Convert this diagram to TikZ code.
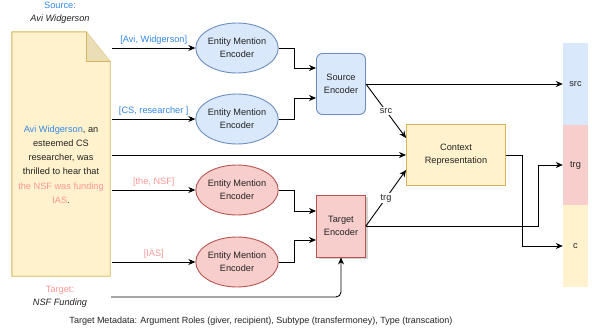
\documentclass[tikz,border=0pt]{standalone}
\usepackage{fontspec}
\setmainfont{Liberation Sans}
\usepackage{tikz}
\usetikzlibrary{arrows.meta,calc,positioning,shapes.geometric,shadows}
\definecolor{SrcFill}{RGB}{218,232,252}
\definecolor{SrcLine}{RGB}{108,142,191}
\definecolor{TrgFill}{RGB}{248,206,204}
\definecolor{TrgLine}{RGB}{184,84,80}
\definecolor{CtxFill}{RGB}{255,242,204}
\definecolor{CtxLine}{RGB}{214,182,86}
\definecolor{FoldFill}{RGB}{235,222,182}
\definecolor{SrcText}{RGB}{51,136,230}
\definecolor{TrgText}{RGB}{255,150,150}
\definecolor{Ink}{RGB}{35,35,35}

\begin{document}
\begin{tikzpicture}[x=1pt,y=-1pt,font=\fontsize{9.2}{13}\selectfont,text=Ink,
  mention/.style={ellipse,draw,line width=.9pt,minimum width=78,minimum height=50,inner sep=0,align=center},
  encbox/.style={draw,line width=.9pt,minimum width=49,minimum height=61,inner sep=0,align=center},
  slot/.style={minimum width=25,inner sep=0},
  arr/.style={line width=.9pt,-{Stealth[length=7pt,width=6pt]}},
  tag/.style={fill=white,inner sep=1pt}]
  \useasboundingbox (0,0) rectangle (592,335);
  % the story
  \node[minimum width=98,minimum height=244,inner sep=0] (doc) at (61,154) {};
  \draw[CtxLine,fill=CtxFill,line width=.9pt] (doc.north west) -- ($(doc.north east)+(-24,0)$)
    -- ($(doc.north east)+(0,30)$) -- (doc.south east) -- (doc.south west) -- cycle;
  \draw[CtxLine,fill=FoldFill,line width=.9pt] ($(doc.north east)+(-24,0)$)
    -- ($(doc.north east)+(-24,30)$) -- ($(doc.north east)+(0,30)$);
  \node[align=center,font=\fontsize{9.2}{14.3}\selectfont] (story) at (61,164.5)
    {{\color{SrcText}Avi Widgerson}, an\\esteemed CS\\researcher, was\\thrilled to hear that\\
     {\color{TrgText}the NSF was funding}\\{\color{TrgText}IAS}.};
  \node[align=center] (srcLbl) at (60,13) {{\color{SrcText}Source:}\\\textit{Avi Widgerson}};
  \node[align=center] (trgLbl) at (60,297) {{\color{TrgText}Target:}\\\textit{NSF Funding}};

  % encoders
  \node[mention,fill=SrcFill,draw=SrcLine] (emA) at (237,48) {Entity Mention\\Encoder};
  \node[mention,fill=SrcFill,draw=SrcLine] (emB) at (237,119) {Entity Mention\\Encoder};
  \node[mention,fill=TrgFill,draw=TrgLine] (emC) at (237,190) {Entity Mention\\Encoder};
  \node[mention,fill=TrgFill,draw=TrgLine] (emD) at (237,262) {Entity Mention\\Encoder};
  \node[encbox,fill=SrcFill,draw=SrcLine,rounded corners=6] (srcEnc) at (341,84) {Source\\Encoder};
  \node[encbox,fill=TrgFill,draw=TrgLine,minimum height=62,
    drop shadow={shadow xshift=2pt,shadow yshift=-2pt,opacity=.35}] (trgEnc) at (341,226) {Target\\Encoder};
  \node[encbox,fill=CtxFill,draw=CtxLine,minimum width=99] (ctx) at (456,155) {Context\\Representation};

  % output slots
  \node[slot,fill=SrcFill,minimum height=82] (colSrc) at (575.5,84) {src};
  \node[slot,fill=TrgFill,minimum height=80] (colTrg) at (575.5,165) {trg};
  \node[slot,fill=CtxFill,minimum height=82] (colC) at (575.5,246) {c};

  % mentions
  \draw[arr] ([xshift=2]doc.east |- emA) -- node[above,text=SrcText]{[Avi, Widgerson]} (emA);
  \draw[arr] ([xshift=2]doc.east |- emB) -- node[above,text=SrcText]{[CS, researcher ]} (emB);
  \draw[arr] ([xshift=2]doc.east |- emC) -- node[above,text=TrgText]{[the, NSF]} (emC);
  \draw[arr] ([xshift=2]doc.east |- emD) -- node[above,text=TrgText]{[IAS]} (emD);
  \draw[arr] ([xshift=2]doc.east |- ctx) -- (ctx);
  \draw[arr,rounded corners=5] ([xshift=1]doc.east |- trgLbl) -| (trgEnc);

  \draw[arr] (emA.east) -- ++(16,0) |- ($(srcEnc.west)+(0,-16)$);
  \draw[arr] (emB.east) -- ++(16,0) |- ($(srcEnc.west)+(0,14)$);
  \draw[arr] (emC.east) -- ++(16,0) |- ($(trgEnc.west)+(0,-15)$);
  \draw[arr] (emD.east) -- ++(16,0) |- ($(trgEnc.west)+(0,14)$);

  \draw[arr] (srcEnc.east) -- (colSrc);
  \draw[arr] (srcEnc.east) -- node[tag]{src} ($(ctx.west)+(0,-17)$);
  \draw[arr] (trgEnc.east) -- node[tag]{trg} ($(ctx.west)+(0,15)$);
  \draw[arr] (trgEnc.east) -- ++(172,0) |- (colTrg);
  \draw[arr] (ctx.east) -- ++(16,0) |- (colC);

  \node[font=\fontsize{9}{11}\selectfont] (meta) at (261,321) {Target Metadata: Argument Roles (giver, recipient), Subtype (transfermoney), Type (transcation)};
\end{tikzpicture}
\end{document}
